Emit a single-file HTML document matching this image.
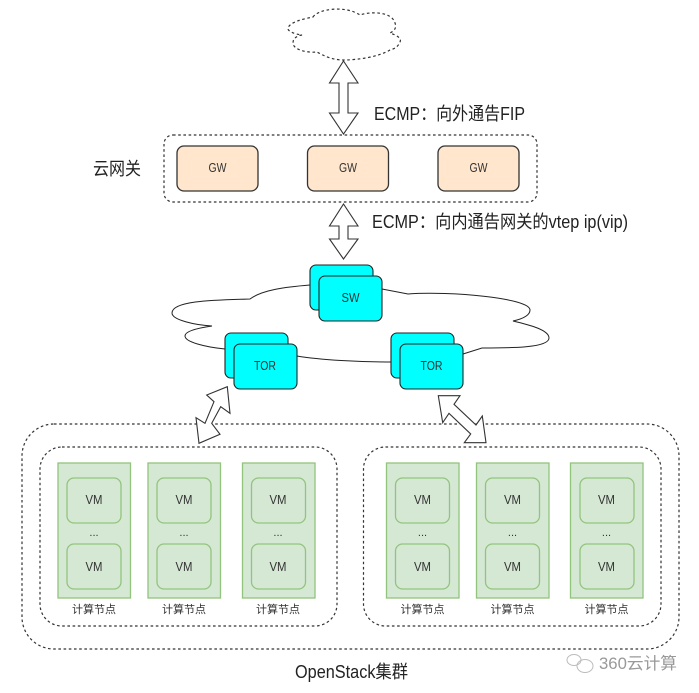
<!DOCTYPE html>
<html><head><meta charset="utf-8"><style>
html,body{margin:0;padding:0;background:#fff}
svg{display:block;filter:blur(.35px)}
text{font-family:"Liberation Sans","Noto Sans CJK SC",sans-serif;fill:#222}
.d{fill:none;stroke:#333;stroke-width:1.2;stroke-dasharray:2.6 2.6}
.g{fill:#ffe6cc;stroke:#333;stroke-width:1.3}
.c{fill:#00ffff;stroke:#222;stroke-width:1.1}
.n{fill:#d5e8d4;stroke:#93c47d;stroke-width:1.3}
.a{fill:#fff;stroke:#333;stroke-width:1.1;stroke-linejoin:miter}
.t{font-size:13px;text-anchor:middle;fill:#333}
.l{font-size:18px}
.s{font-size:11px;text-anchor:middle;fill:#333}
</style></head><body>
<svg width="699" height="693" viewBox="0 0 699 693" xmlns="http://www.w3.org/2000/svg">
<path class="d" d="M313 17C318 9 345 5 360 15C372 11 392 12 395 23C397 28 394 31 390 33C396 35 402 38 400 42C398 47 394 49 390 50C378 57 358 60 343 60C333 60 324 56 317 52C308 53 293 50 293 43C293 38 297 36 302 35C294 34 287 31 288 28C290 22 303 19 313 17Z"/>
<path class="a" d="M343.500 61L358 83H348V113H358L343.500 134L329.500 113H339V83H329.500Z"/>
<rect class="d" x="164" y="135" width="373" height="67" rx="9"/>
<rect class="g" x="177" y="146" width="81" height="45" rx="7"/><text class="t" x="217.500" y="172" textLength="18" lengthAdjust="spacingAndGlyphs">GW</text>
<rect class="g" x="307.500" y="146" width="81" height="45" rx="7"/><text class="t" x="348" y="172" textLength="18" lengthAdjust="spacingAndGlyphs">GW</text>
<rect class="g" x="438" y="146" width="81" height="45" rx="7"/><text class="t" x="478.500" y="172" textLength="18" lengthAdjust="spacingAndGlyphs">GW</text>
<text class="l" x="374" y="120" textLength="151" lengthAdjust="spacingAndGlyphs">ECMP：向外通告FIP</text>
<text class="l" x="372" y="228" textLength="256" lengthAdjust="spacingAndGlyphs">ECMP：向内通告网关的vtep ip(vip)</text>
<text class="l" x="93" y="175" textLength="48" lengthAdjust="spacingAndGlyphs">云网关</text>
<path class="a" d="M343.500 204L358 226H348V239H358L343.500 259L329.500 239H339V226H329.500Z"/>
<path d="M310 285C285 287 262 290 250 299C220 300 172 300 172 313C172 320 195 325 212 326C198 328 185 331 185 336C185 342 205 347 225 349M297 356C320 360 360 362 392 362M463 354L482 348C510 348 549 348 549 338C549 330 530 325 513 321C522 319 530 316 530 310C530 298 450 291 408 294L382 289" fill="none" stroke="#222" stroke-width="1"/>
<rect class="c" x="310" y="265" width="63" height="45" rx="6"/>
<rect class="c" x="319" y="276" width="63" height="45" rx="6"/><text class="t" x="350.500" y="302" textLength="18" lengthAdjust="spacingAndGlyphs">SW</text>
<rect class="c" x="225" y="333" width="63" height="45" rx="6"/>
<rect class="c" x="234" y="344" width="63" height="45" rx="6"/><text class="t" x="265" y="370" textLength="22" lengthAdjust="spacingAndGlyphs">TOR</text>
<rect class="c" x="391" y="333" width="63" height="45" rx="6"/>
<rect class="c" x="400" y="344" width="63" height="45" rx="6"/><text class="t" x="431.500" y="370" textLength="22" lengthAdjust="spacingAndGlyphs">TOR</text>
<rect class="d" x="22" y="424" width="657" height="225" rx="32"/>
<path class="a" d="M227.300 386.700L230 413.300L220.700 406.700L211.700 423.300L220 434.300L199 443.300L196 417.700L205 423.300L214 401.700L206.700 395Z"/>
<path class="a" d="M438.300 395.700L460 395.700L454 404.300L476 425L482.300 416L486 442.700L464.300 442.700L470.700 434L449 413.300L442.700 422.700Z"/>
<rect class="d" x="40" y="447" width="297" height="179" rx="22"/>
<rect class="d" x="363.500" y="447" width="297.500" height="179" rx="22"/>

<g id="nodes">
<rect class="n" x="58" y="463" width="72.500" height="135"/><rect class="n" x="67" y="478" width="54" height="45" rx="7"/><rect class="n" x="67" y="544" width="54" height="45" rx="7"/>
<text class="t" x="94" y="504" textLength="17" lengthAdjust="spacingAndGlyphs">VM</text><text class="t" x="94" y="571" textLength="17" lengthAdjust="spacingAndGlyphs">VM</text><text class="s" x="94" y="536">...</text><text class="s" x="94" y="613">计算节点</text>
<rect class="n" x="148" y="463" width="72.500" height="135"/><rect class="n" x="157" y="478" width="54" height="45" rx="7"/><rect class="n" x="157" y="544" width="54" height="45" rx="7"/>
<text class="t" x="184" y="504" textLength="17" lengthAdjust="spacingAndGlyphs">VM</text><text class="t" x="184" y="571" textLength="17" lengthAdjust="spacingAndGlyphs">VM</text><text class="s" x="184" y="536">...</text><text class="s" x="184" y="613">计算节点</text>
<rect class="n" x="242.500" y="463" width="72.500" height="135"/><rect class="n" x="251.500" y="478" width="54" height="45" rx="7"/><rect class="n" x="251.500" y="544" width="54" height="45" rx="7"/>
<text class="t" x="278" y="504" textLength="17" lengthAdjust="spacingAndGlyphs">VM</text><text class="t" x="278" y="571" textLength="17" lengthAdjust="spacingAndGlyphs">VM</text><text class="s" x="278" y="536">...</text><text class="s" x="278" y="613">计算节点</text>
<rect class="n" x="386.500" y="463" width="72.500" height="135"/><rect class="n" x="395.500" y="478" width="54" height="45" rx="7"/><rect class="n" x="395.500" y="544" width="54" height="45" rx="7"/>
<text class="t" x="422.500" y="504" textLength="17" lengthAdjust="spacingAndGlyphs">VM</text><text class="t" x="422.500" y="571" textLength="17" lengthAdjust="spacingAndGlyphs">VM</text><text class="s" x="422.500" y="536">...</text><text class="s" x="422.500" y="613">计算节点</text>
<rect class="n" x="476.500" y="463" width="72.500" height="135"/><rect class="n" x="485.500" y="478" width="54" height="45" rx="7"/><rect class="n" x="485.500" y="544" width="54" height="45" rx="7"/>
<text class="t" x="512.500" y="504" textLength="17" lengthAdjust="spacingAndGlyphs">VM</text><text class="t" x="512.500" y="571" textLength="17" lengthAdjust="spacingAndGlyphs">VM</text><text class="s" x="512.500" y="536">...</text><text class="s" x="512.500" y="613">计算节点</text>
<rect class="n" x="570.500" y="463" width="72.500" height="135"/><rect class="n" x="580" y="478" width="54" height="45" rx="7"/><rect class="n" x="580" y="544" width="54" height="45" rx="7"/>
<text class="t" x="606.500" y="504" textLength="17" lengthAdjust="spacingAndGlyphs">VM</text><text class="t" x="606.500" y="571" textLength="17" lengthAdjust="spacingAndGlyphs">VM</text><text class="s" x="606.500" y="536">...</text><text class="s" x="606.500" y="613">计算节点</text>
</g>
<text class="l" x="295" y="678" textLength="113" lengthAdjust="spacingAndGlyphs">OpenStack集群</text>
<g fill="none" stroke="#bbb" stroke-width="1">
<ellipse cx="574" cy="660" rx="7" ry="5.500"/><ellipse cx="585" cy="666" rx="8" ry="6.500"/>
</g>
<text x="599" y="669" textLength="78" lengthAdjust="spacingAndGlyphs" style="font-size:16.5px;fill:#999">360云计算</text>
</svg>
</body></html>
